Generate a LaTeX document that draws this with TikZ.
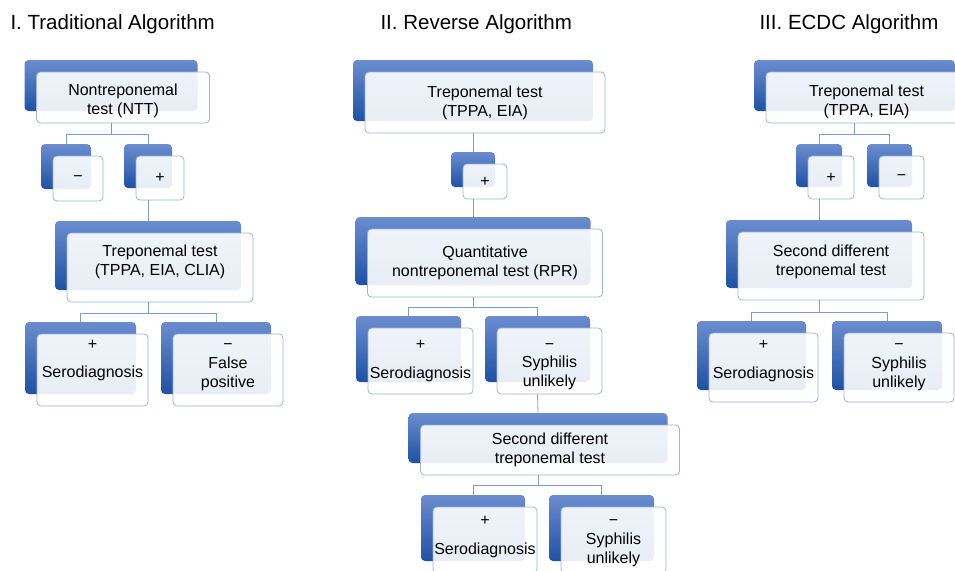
\documentclass[tikz,border=0pt]{standalone}
\usepackage{fontspec}
\setmainfont{Liberation Sans}
\usetikzlibrary{shadows}
\definecolor{blueT}{HTML}{6B8DCF}
\definecolor{blueB}{HTML}{1F51A4}
\definecolor{frame}{HTML}{9DB2DC}
\definecolor{linkc}{HTML}{7F9CD2}
\newcommand{\titlefont}{\fontsize{20.5}{24}\selectfont}
\newcommand{\boxfont}{\fontsize{16}{19}\selectfont}
\begin{document}
\begin{tikzpicture}[x=1pt,y=-1pt,
  card/.style={draw=frame,line width=.8pt,rounded corners=4pt,fill=white,fill opacity=.9,text opacity=1,
    align=center,inner sep=0pt,font=\boxfont,
    general shadow={shadow xshift=-12pt,shadow yshift=12pt,draw=none,fill opacity=1,top color=blueT,bottom color=blueB}},
  sign/.style 2 args={label={[anchor=north,yshift=#2,font=\boxfont,text height=10pt,text depth=0pt]north:#1}},
  push/.style={execute at begin node={\rule{0pt}{#1}}},
  lift/.style={execute at begin node={\rule[-#1]{0pt}{0pt}}},
  link/.style={draw=linkc,line width=.8pt}]
\clip (0,0) rectangle (955,570);
\node[anchor=base west,font=\titlefont] (t1) at (7,29) {I. Traditional Algorithm};
\node[anchor=base west,font=\titlefont] (t2) at (377,29) {II. Reverse Algorithm};
\node[anchor=base west,font=\titlefont] (t3) at (756,29) {III. ECDC Algorithm};
% I. traditional
\node[card,push=36.5pt,minimum width=173,minimum height=51] (ntt) at (123,97.5) {Nontreponemal\\test (NTT)};
\node[card,minimum width=50,minimum height=45] (neg1) at (78,178.5) {−};
\node[card,minimum width=48,minimum height=44] (pos1) at (160,178) {+};
\node[card,lift=14.4pt,minimum width=186,minimum height=69] (trep1) at (160,267.5) {Treponemal test\\(TPPA, EIA, CLIA)};
\node[card,sign={+}{-2pt},push=17.5pt,minimum width=111,minimum height=72] (sero1) at (92.5,370) {Serodiagnosis};
\node[card,sign={−}{-2pt},push=38.5pt,minimum width=110,minimum height=72] (fpos1) at (228,370) {False\\positive};
\draw[link] ([xshift=-12pt]ntt.south) -- ++(0,11) -| ([shift={(-12pt,12pt)}]neg1.north);
\draw[link] ([xshift=-12pt]ntt.south) -- ++(0,11) -| ([shift={(-12pt,12pt)}]pos1.north);
\draw[link] ([xshift=-12pt]pos1.south) -- ([shift={(-12pt,12pt)}]trep1.north);
\draw[link] ([xshift=-12pt]trep1.south) -- ++(0,11) -| ([shift={(-12pt,12pt)}]sero1.north);
\draw[link] ([xshift=-12pt]trep1.south) -- ++(0,11) -| ([shift={(-12pt,12pt)}]fpos1.north);
% II. reverse
\node[card,minimum width=240,minimum height=61] (trep2) at (485,102.5) {Treponemal test\\(TPPA, EIA)};
\node[card,minimum width=44,minimum height=35] (pos2) at (485,181.5) {+};
\node[card,minimum width=235,minimum height=68] (quant2) at (485,263) {Quantitative\\nontreponemal test (RPR)};
\node[card,sign={+}{-8pt},push=37.5pt,minimum width=105,minimum height=66] (sero2) at (420.5,361) {Serodiagnosis};
\node[card,sign={−}{-8pt},push=55pt,minimum width=105,minimum height=66] (unl2) at (549.5,361) {Syphilis\\unlikely};
\node[card,minimum width=259,minimum height=50] (diff2) at (550,450) {Second different\\treponemal test};
\node[card,sign={+}{-5pt},push=31.5pt,minimum width=104,minimum height=66] (sero2b) at (485,540) {Serodiagnosis};
\node[card,sign={−}{-5pt},push=50pt,minimum width=105,minimum height=66] (unl2b) at (613.5,540) {Syphilis\\unlikely};
\draw[link] ([xshift=-12pt]trep2.south) -- ([shift={(-12pt,12pt)}]pos2.north);
\draw[link] ([xshift=-12pt]pos2.south) -- ([shift={(-12pt,12pt)}]quant2.north);
\draw[link] ([xshift=-12pt]quant2.south) -- ++(0,10) -| ([shift={(-12pt,12pt)}]sero2.north);
\draw[link] ([xshift=-12pt]quant2.south) -- ++(0,10) -| ([shift={(-12pt,12pt)}]unl2.north);
\draw[link] ([xshift=-12pt]unl2.south) -- ([shift={(-12pt,12pt)}]diff2.north);
\draw[link] ([xshift=-12pt]diff2.south) -- ++(0,10) -| ([shift={(-12pt,12pt)}]sero2b.north);
\draw[link] ([xshift=-12pt]diff2.south) -- ++(0,10) -| ([shift={(-12pt,12pt)}]unl2b.north);
% III. ECDC
\node[card,push=39.5pt,minimum width=201,minimum height=51] (trep3) at (866.5,97.5) {Treponemal test\\(TPPA, EIA)};
\node[card,minimum width=46,minimum height=43] (pos3) at (831,177.5) {+};
\node[card,minimum width=45,minimum height=43] (neg3) at (901.5,177.5) {−};
\node[card,lift=12.4pt,minimum width=186,minimum height=68] (diff3) at (831,266) {Second different\\treponemal test};
\node[card,sign={+}{-3pt},push=24.5pt,minimum width=109,minimum height=69] (sero3) at (763.5,367.5) {Serodiagnosis};
\node[card,sign={−}{-3pt},push=43pt,minimum width=110,minimum height=69] (unl3) at (899,367.5) {Syphilis\\unlikely};
\draw[link] ([xshift=-12pt]trep3.south) -- ++(0,11) -| ([shift={(-12pt,12pt)}]pos3.north);
\draw[link] ([xshift=-12pt]trep3.south) -- ++(0,11) -| ([shift={(-12pt,12pt)}]neg3.north);
\draw[link] ([xshift=-12pt]pos3.south) -- ([shift={(-12pt,12pt)}]diff3.north);
\draw[link] ([xshift=-12pt]diff3.south) -- ++(0,12) -| ([shift={(-12pt,12pt)}]sero3.north);
\draw[link] ([xshift=-12pt]diff3.south) -- ++(0,12) -| ([shift={(-12pt,12pt)}]unl3.north);
\end{tikzpicture}
\end{document}
